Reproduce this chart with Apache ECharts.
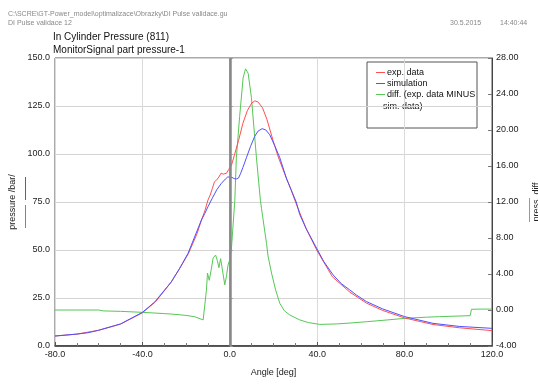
<!DOCTYPE html>
<html>
<head>
<meta charset="utf-8">
<script src="https://cdn.jsdelivr.net/npm/echarts@6/dist/echarts.min.js"></script>
<style>
html,body{margin:0;padding:0;background:#fff;}
#c{width:538px;height:389px;}
</style>
</head>
<body>
<div id="c"></div>
<script>
// ---- data (angle [deg], value) ----
var expAngle = [-80,-70,-60,-50,-40,-34,-27,-23,-19,-15,-13,-11.4,-10,-9,-8,-7,-6,-5,-4,-3,-1.5,-0.5,0.8,2,4,6,8,10,11.5,13,15,17,19.8,22,25,28,30.4,35,40,47,55,62.6,70,80,93,105,120];
var expData  = [5.2,6.2,8.2,11.4,17.3,23,33,40.3,48,58.5,65.5,70.5,76,78.5,82,85.6,86.5,88,90,89.5,90,92,94.3,99,107,116,122.5,126.5,127.7,127,124,118,107,99,90,81.5,74,61,49.5,36,28,22.3,18.5,14.6,11.2,9.5,8];
var simAngle = [-80,-70,-65,-60,-50,-40,-34.3,-26.7,-22.9,-19.1,-13,-11.4,-10,-8,-6,-4,-2,-1,0,1,2,3,4,5,6,7.6,9.5,11.4,13,14.8,16.5,18.3,20.5,22.9,26,30.4,32,35,39.7,43,47.3,51,54.9,58,62.6,70,80,93,105,120];
var simData  = [5.2,6.2,6.9,8.2,11.5,17.5,23,33.5,40.5,48.3,65.6,69.1,72.5,77,81.3,84.5,87,88,88,87.8,87.2,87,87.5,90,93,98,104,109.2,112,113.2,112.5,110,104.5,98,87,75,68.5,61,51,44,37,32.5,29.2,26.5,23.1,19.3,15.3,11.8,10.2,9.2];
var diffAngle = [-80,-70,-60,-58,-50,-40,-30,-26.7,-20,-16,-12.2,-11.5,-10.7,-10.2,-9.4,-8.5,-7.6,-6.5,-5.7,-5,-4.2,-3.6,-2.3,-1.5,-0.8,0,0.8,2.3,3,4.5,6.1,7.2,8.4,9.9,12.2,14,14.5,16.8,17.5,19.1,21,22.9,25,27.5,32,36,41.2,48.7,55,62.6,70,80,90,96,110,110.6,115,120];
var diffData  = [0,0,0,-0.1,-0.15,-0.26,-0.4,-0.45,-0.6,-0.75,-1.1,-1.0,2.2,4.1,3.3,4.5,5.8,6.1,5.5,4.7,5.7,4.8,2.8,3.8,5,5.6,7,12.2,16.9,21.5,25.8,26.8,26.3,23.6,16.9,12.2,11.3,7.4,6,4.1,2.2,0.74,-0.1,-0.56,-1.1,-1.4,-1.6,-1.55,-1.45,-1.3,-1.15,-0.93,-0.8,-0.74,-0.63,0.08,0.1,0.1];
var leftTicks = [0,25,50,75,100,125,150];
var rightTicks = [-4,0,4,8,12,16,20,24,28];
var xTicks = [-80,-40,0,40,80,120];

function pairs(a, v){ return a.map(function(x,i){ return [x, v[i]]; }); }

var FONT = 'Liberation Sans, Arial, sans-serif';
var chart = echarts.init(document.getElementById('c'), null, {renderer:'canvas'});
var option = {
  backgroundColor:'#fff',
  animation:false,
  textStyle:{fontFamily:FONT},
  grid:{left:55,right:46,top:58,bottom:43,show:true,borderColor:'#555',borderWidth:1,backgroundColor:'transparent',outerBoundsMode:'none',containLabel:false},
  xAxis:{
    type:'value', min:xTicks[0], max:xTicks[xTicks.length-1], interval:40,
    name:'Angle [deg]', nameLocation:'middle', nameGap:22,
    nameTextStyle:{color:'#222',fontSize:9,fontFamily:FONT},
    axisLine:{lineStyle:{color:'#333',width:1.5}},
    axisTick:{inside:true,length:4,lineStyle:{color:'#555'}},
    minorTick:{show:true,splitNumber:4,length:3,lineStyle:{color:'#777'}},
    axisLabel:{color:'#222',fontSize:9,margin:4,formatter:function(v){return v.toFixed(1);}},
    splitLine:{show:true,lineStyle:{color:'#dadada',width:1}}
  },
  yAxis:[{
    type:'value', min:leftTicks[0], max:leftTicks[leftTicks.length-1], interval:25, position:'left',
    name:'pressure /bar/', nameLocation:'middle', nameGap:29, nameRotate:90,
    nameTextStyle:{color:'#222',fontSize:9,fontFamily:FONT},
    axisLine:{show:true,lineStyle:{color:'#aaa',width:2}},
    axisTick:{show:true,inside:true,length:3,lineStyle:{color:'#999'}},
    axisLabel:{color:'#222',fontSize:9,margin:5,formatter:function(v){return v.toFixed(1);}},
    splitLine:{show:true,lineStyle:{color:'#d4d4d4',width:1}}
  },{
    type:'value', min:rightTicks[0], max:rightTicks[rightTicks.length-1], interval:4, position:'right',
    name:'press_diff', nameLocation:'middle', nameGap:40, nameRotate:90,
    nameTextStyle:{color:'#222',fontSize:9,fontFamily:FONT},
    axisLine:{show:true,lineStyle:{color:'#444',width:1}},
    axisTick:{show:true,inside:true,length:4,lineStyle:{color:'#777'}},
    axisLabel:{color:'#222',fontSize:9,margin:4,formatter:function(v){return v.toFixed(2);}},
    splitLine:{show:false}
  }],
  legend:{
    z:20,
    orient:'vertical', left:371, top:63, icon:'rect', itemWidth:9, itemHeight:1, itemGap:2,
    textStyle:{fontSize:9,color:'#111',fontFamily:FONT,padding:[0,0,0,-3]},
    data:['exp. data','simulation','diff. (exp. data MINUS'],
    selectedMode:false
  },
  series:[
    {name:'exp. data',type:'line',data:pairs(expAngle,expData),symbol:'none',lineStyle:{color:'#ff4f4f',width:1},itemStyle:{color:'#ff4f4f'},z:3,
     markLine:{silent:true,symbol:'none',label:{show:false},lineStyle:{color:'#888',width:2.5,type:'solid'},data:[{xAxis:0}]}},
    {name:'simulation',type:'line',data:pairs(simAngle,simData),symbol:'none',lineStyle:{color:'#5050ff',width:1},itemStyle:{color:'#5050ff'},z:4},
    {name:'diff. (exp. data MINUS',type:'line',yAxisIndex:1,data:pairs(diffAngle,diffData),symbol:'none',lineStyle:{color:'#55c855',width:1},itemStyle:{color:'#55c855'},z:2}
  ],
  graphic:{
    z:5,
    elements:[
    {type:'rect',shape:{x:367,y:62,width:110,height:66},style:{fill:'#fff',stroke:'#555',lineWidth:1}},
    {type:'text',x:383,y:102,style:{text:'sim. data)',fontSize:9,fill:'#111',fontFamily:FONT}},
    {type:'text',x:8,y:11,style:{text:'C:\\SCRE\\GT-Power_model\\optimalizace\\Obrazky\\DI Pulse validace.gu',fontSize:7,fill:'#888',fontFamily:FONT}},
    {type:'text',x:8,y:20,style:{text:'DI Pulse validace 12',fontSize:7,fill:'#888',fontFamily:FONT}},
    {type:'text',x:450,y:20,style:{text:'30.5.2015',fontSize:7,fill:'#888',fontFamily:FONT}},
    {type:'text',x:500,y:20,style:{text:'14:40:44',fontSize:7,fill:'#888',fontFamily:FONT}},
    {type:'text',x:53,y:32,style:{text:'In Cylinder Pressure (811)',fontSize:10,fill:'#111',fontFamily:FONT}},
    {type:'text',x:53,y:45,style:{text:'MonitorSignal part pressure-1',fontSize:10,fill:'#111',fontFamily:FONT}},
    {type:'line',shape:{x1:25.5,y1:177,x2:25.5,y2:200},style:{stroke:'#5050ff',lineWidth:1}},
    {type:'line',shape:{x1:25.5,y1:205,x2:25.5,y2:228},style:{stroke:'#ff4f4f',lineWidth:1}},
    {type:'line',shape:{x1:529.5,y1:198,x2:529.5,y2:222},style:{stroke:'#55c855',lineWidth:1}}
    ]
  }
};
chart.setOption(option);
</script>
</body>
</html>
